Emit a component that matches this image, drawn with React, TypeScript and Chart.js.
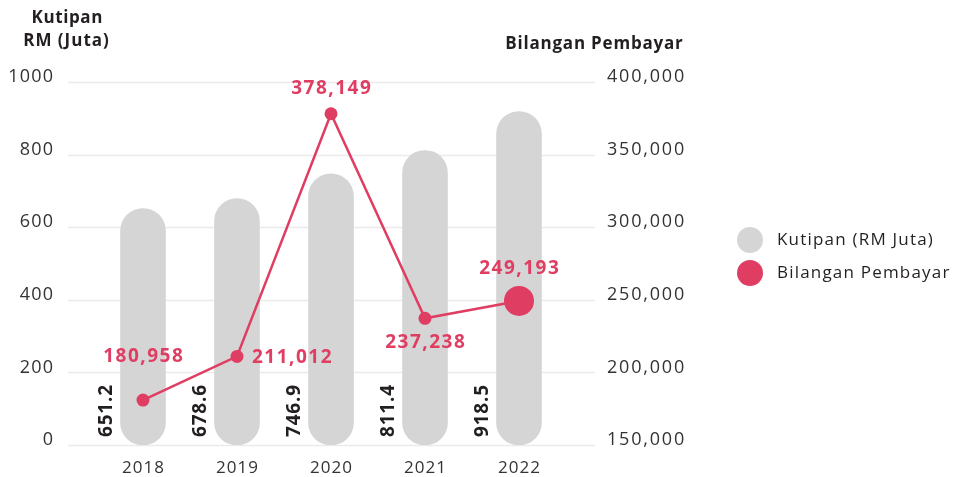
import React, { useEffect, useRef } from "react";
import { Chart, registerables } from "chart.js";

Chart.register(...registerables);

const years = ["2018", "2019", "2020", "2021", "2022"];
const kutipan = [651.2, 678.6, 746.9, 811.4, 918.5];
const pembayar = [180958, 211012, 378149, 237238, 249193];
const leftTicks = [0, 200, 400, 600, 800, 1000];
const rightTicks = [150000, 200000, 250000, 300000, 350000, 400000];

// label styling (placement relative to each point)
const pembayarLabelPos = ["above", "right", "above", "below", "above"];
const pembayarLabelGap = [43, 15, 25, 24, 32];
const pointRadii = [6.5, 6.5, 6.5, 6.5, 15];

const RED = "#e03d62";
const GREY = "#d5d5d5";
const TEXT = "#231f20";
const FONT = "'Open Sans', sans-serif";

const fmt = (v: number) => v.toLocaleString("en-US");

function text(ctx: any, s: string, x: number, y: number, spacing: number) {
  ctx.letterSpacing = spacing + "px";
  let dx = 0;
  if (ctx.textAlign === "center") dx = spacing / 2;
  else if (ctx.textAlign === "right") dx = spacing;
  ctx.fillText(s, x + dx, y);
  ctx.letterSpacing = "0px";
}

const overlay = {
  id: "overlay",
  beforeDatasetsDraw(chart: any) {
    const ctx = chart.ctx;
    const y = chart.scales.y;
    ctx.save();
    ctx.strokeStyle = "#ebebeb";
    ctx.lineWidth = 1.5;
    leftTicks.forEach((t) => {
      const py = Math.round(y.getPixelForValue(t)) + 0.5;
      ctx.beginPath();
      ctx.moveTo(68, py);
      ctx.lineTo(595, py);
      ctx.stroke();
    });
    ctx.restore();
  },
  afterDatasetsDraw(chart: any) {
    const ctx = chart.ctx;
    const x = chart.scales.x;
    const y = chart.scales.y;
    const y1 = chart.scales.y1;
    ctx.save();
    // left tick labels
    ctx.fillStyle = "#333";
    ctx.font = `400 18px ${FONT}`;
    ctx.textBaseline = "middle";
    ctx.textAlign = "right";
    leftTicks.forEach((t) => {
      text(ctx, String(t), 53, y.getPixelForValue(t) - 5, 1.2);
    });
    // right tick labels
    ctx.textAlign = "left";
    rightTicks.forEach((t) => {
      text(ctx, fmt(t), 607, y1.getPixelForValue(t) - 5, 1.8);
    });
    // year labels
    ctx.textAlign = "center";
    ctx.font = `400 17px ${FONT}`;
    years.forEach((yr, i) => {
      text(ctx, yr, x.getPixelForValue(i), 468, 1);
    });
    // axis titles
    ctx.fillStyle = TEXT;
    ctx.font = `700 17px ${FONT}`;
    text(ctx, "Kutipan", 67, 18, 0.6);
    text(ctx, "RM (Juta)", 66, 41, 1);
    text(ctx, "Bilangan Pembayar", 594, 44, 0.8);
    // bar value labels (rotated)
    ctx.font = `700 19px ${FONT}`;
    kutipan.forEach((v, i) => {
      const px = x.getPixelForValue(i) - 36;
      ctx.save();
      ctx.translate(px, y.getPixelForValue(0) - 8);
      ctx.rotate(-Math.PI / 2);
      ctx.textAlign = "left";
      ctx.textBaseline = "middle";
      text(ctx, v.toFixed(1), 0, 0, 0.8);
      ctx.restore();
    });
    // line value labels
    ctx.fillStyle = RED;
    ctx.font = `700 19px ${FONT}`;
    pembayar.forEach((v, i) => {
      const px = x.getPixelForValue(i);
      const py = y1.getPixelForValue(v);
      const pos = pembayarLabelPos[i];
      const gap = pembayarLabelGap[i];
      ctx.textBaseline = "middle";
      if (pos === "above") {
        ctx.textAlign = "center";
        text(ctx, fmt(v), px, py - gap, 1.5);
      } else if (pos === "below") {
        ctx.textAlign = "center";
        text(ctx, fmt(v), px, py + gap, 1.5);
      } else {
        ctx.textAlign = "left";
        text(ctx, fmt(v), px + gap, py + 1, 1.5);
      }
    });
    // legend
    const items = [
      { c: GREY, t: "Kutipan (RM Juta)", y: 240 },
      { c: RED, t: "Bilangan Pembayar", y: 273 },
    ];
    items.forEach((it) => {
      ctx.fillStyle = it.c;
      ctx.beginPath();
      ctx.arc(750, it.y, 13, 0, Math.PI * 2);
      ctx.fill();
      ctx.fillStyle = TEXT;
      ctx.font = `400 17px ${FONT}`;
      ctx.textAlign = "left";
      ctx.textBaseline = "middle";
      text(ctx, it.t, 777, it.y, 1.2);
    });
    ctx.restore();
  },
};

export default function App() {
  const ref = useRef<HTMLCanvasElement>(null);
  useEffect(() => {
    document.body.style.margin = "0";
    const chart = new Chart(ref.current!, {
      type: "bar",
      data: {
        labels: years,
        datasets: [
          {
            type: "line",
            label: "Bilangan Pembayar",
            data: pembayar,
            yAxisID: "y1",
            borderColor: RED,
            backgroundColor: RED,
            borderWidth: 2.5,
            pointRadius: pointRadii,
            pointBackgroundColor: RED,
            pointBorderWidth: 0,
            tension: 0,
            order: 0,
          } as any,
          {
            type: "bar",
            label: "Kutipan (RM Juta)",
            data: kutipan,
            yAxisID: "y",
            backgroundColor: GREY,
            barThickness: 45,
            borderRadius: 23,
            borderSkipped: false,
            order: 1,
          } as any,
        ],
      },
      options: {
        responsive: false,
        animation: false,
        layout: { padding: { left: 96, right: 387, top: 82, bottom: 32 } },
        plugins: { legend: { display: false }, tooltip: { enabled: false } },
        scales: {
          x: { display: false, offset: true },
          y: { display: false, min: 0, max: 1000 },
          y1: { display: false, position: "right", min: 150000, max: 400000 },
        },
      },
      plugins: [overlay],
    });
    return () => chart.destroy();
  }, []);
  return (
    <div style={{ position: "fixed", left: 0, top: 0, width: 953, height: 477 }}>
      <canvas ref={ref} width={953} height={477} />
    </div>
  );
}
